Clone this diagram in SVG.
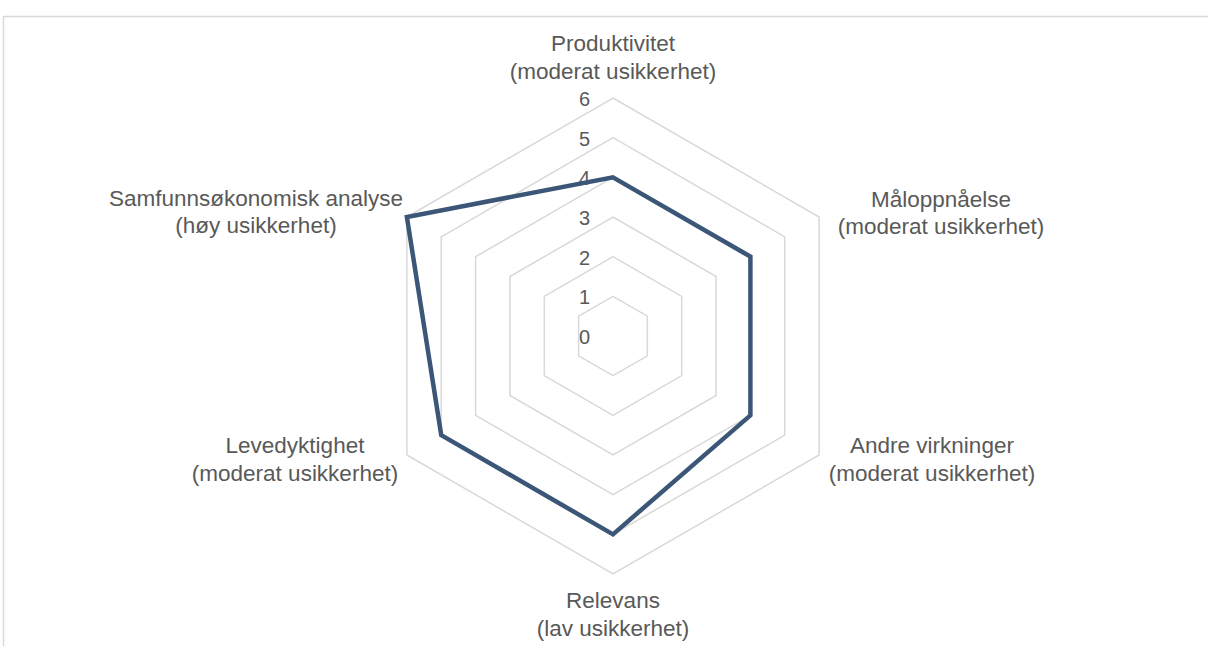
<svg xmlns="http://www.w3.org/2000/svg" width="1208" height="646" viewBox="0 0 1208 646">
<style>
.grid{fill:none;stroke:#d9d9d9;stroke-width:1.5}
.lbl{font-family:"Liberation Sans",Arial,sans-serif;font-size:22.5px;fill:#595959;text-anchor:middle}
.tick{font-family:"Liberation Sans",Arial,sans-serif;font-size:20px;fill:#595959;text-anchor:end}
.series{fill:none;stroke:#3b5676;stroke-width:4.5;stroke-linejoin:miter}
</style>
<rect x="0" y="0" width="1208" height="646" fill="#ffffff"/>
<rect x="3.5" y="16.5" width="1215" height="640" fill="none" stroke="#d9d9d9" stroke-width="1.5"/>
<g id="grid">
<polygon class="grid" points="613,296.33 647.35,316.17 647.35,355.83 613,375.67 578.65,355.83 578.65,316.17"/>
<polygon class="grid" points="613,256.67 681.70,296.33 681.70,375.67 613,415.33 544.30,375.67 544.30,296.33"/>
<polygon class="grid" points="613,217 716.06,276.5 716.06,395.5 613,455 509.94,395.5 509.94,276.5"/>
<polygon class="grid" points="613,177.33 750.41,256.67 750.41,415.33 613,494.67 475.59,415.33 475.59,256.67"/>
<polygon class="grid" points="613,137.67 784.76,236.83 784.76,435.17 613,534.33 441.24,435.17 441.24,236.83"/>
<polygon class="grid" points="613,98 819.11,217 819.11,455 613,574 406.89,455 406.89,217"/>
</g>
<g id="ticks">
<text class="tick" x="590" y="344">0</text>
<text class="tick" x="590" y="304.3">1</text>
<text class="tick" x="590" y="264.7">2</text>
<text class="tick" x="590" y="225">3</text>
<text class="tick" x="590" y="185.3">4</text>
<text class="tick" x="590" y="145.7">5</text>
<text class="tick" x="590" y="106">6</text>
</g>
<g id="connectors">
<polygon class="series" points="613,177.33 750.41,256.67 750.41,415.33 613,534.33 441.24,435.17 406.89,217"/>
</g>
<g id="produktivitet"><text class="lbl" x="613" y="51">Produktivitet</text><text class="lbl" x="613" y="79">(moderat usikkerhet)</text></g>
<g id="maloppnaelse"><text class="lbl" x="941" y="207">Måloppnåelse</text><text class="lbl" x="941" y="234">(moderat usikkerhet)</text></g>
<g id="andre-virkninger"><text class="lbl" x="932" y="453">Andre virkninger</text><text class="lbl" x="932" y="481">(moderat usikkerhet)</text></g>
<g id="relevans"><text class="lbl" x="613" y="608">Relevans</text><text class="lbl" x="613" y="636">(lav usikkerhet)</text></g>
<g id="levedyktighet"><text class="lbl" x="295" y="453">Levedyktighet</text><text class="lbl" x="295" y="481">(moderat usikkerhet)</text></g>
<g id="samfunnsokonomisk"><text class="lbl" x="256" y="206">Samfunnsøkonomisk analyse</text><text class="lbl" x="256" y="233">(høy usikkerhet)</text></g>
</svg>
